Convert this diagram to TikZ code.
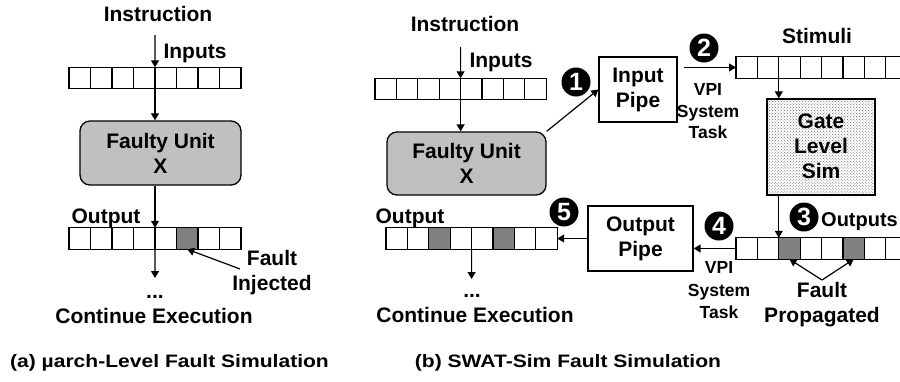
\documentclass[tikz,border=0pt]{standalone}
\usepackage{fontspec}
\setmainfont{Liberation Sans}
\usetikzlibrary{arrows.meta,patterns}
\definecolor{unitgray}{RGB}{192,192,192}
\definecolor{cellg}{RGB}{128,128,128}
\newcommand{\myreg}[5]{%
  \foreach \f [count=\i] in {#5} {
    \node[cell, minimum width=#4bp, fill=\f] (#1-\i) at ({#2+(\i-0.5)*#4}, #3) {};
  }%
}
\begin{document}
\begin{tikzpicture}[x=1bp,y=-1bp,
  every node/.style={font=\bfseries\fontsize{21bp}{25bp}\selectfont},
  lbl/.style={anchor=base, inner sep=0},
  smalltxt/.style={anchor=base, inner sep=0, font=\bfseries\fontsize{17.5bp}{22bp}\selectfont},
  captxt/.style={anchor=base, inner sep=0, font=\bfseries\fontsize{18bp}{22bp}\selectfont},
  cell/.style={draw, minimum height=21.5bp, inner sep=0, outer sep=0, line width=1.2bp},
  box/.style={draw, line width=1.3bp, align=center, inner sep=0},
  arr/.style={line width=1.2bp, -{Triangle[length=7bp,width=8bp]}},
  num/.style={circle, fill=black, text=white, minimum size=29bp, inner sep=0,
    font=\bfseries\fontsize{25bp}{25bp}\selectfont},
]
\path[use as bounding box, fill=white] (0,0) rectangle (900,381);
\clip (0,0) rectangle (900,381);

% ---------------- (a) left panel ----------------
\node[lbl] (instrL) at (158,21) {Instruction};
\node[lbl] (inputsL) at (195,58) {Inputs};
\myreg{rinL}{69}{78}{21.5}{white,white,white,white,white,white,white,white}
\node[box, minimum width=161bp, minimum height=64bp, fill=unitgray, rounded corners=10bp]
  (faultyL) at (160.5,153) {Faulty Unit\\X};
\node[lbl] (outL) at (106,223) {Output};
\myreg{routL}{69}{238.5}{21.5}{white,white,white,white,white,cellg,white,white}
\coordinate (inLs) at (155,35);
\coordinate (endL) at (155,278);
\draw[arr] (inLs) -- (rinL-4.north east);
\draw[arr] (rinL-4.south east) -- (rinL-4.south east |- faultyL.north);
\draw[arr] (rinL-4.south east |- faultyL.south) -- (routL-4.north east);
\draw[arr] (routL-4.south east) -- (endL);
\node[lbl] (dotsL) at (155,298) {...};
\node[lbl] (contL) at (154,323) {Continue Execution};
\node[lbl] (fiL1) at (272,265) {Fault};
\node[lbl] (fiL2) at (272,290) {Injected};
\coordinate (fiLs) at (240,269);
\draw[arr] (fiLs) -- (routL-6.south);

% ---------------- (b) right panel ----------------
\node[lbl] (instrR) at (465,31) {Instruction};
\node[lbl] (inputsR) at (501,67) {Inputs};
\myreg{rinR}{375}{89}{21.4}{white,white,white,white,white,white,white,white}
\node[box, minimum width=159bp, minimum height=63bp, fill=unitgray, rounded corners=10bp]
  (faultyR) at (466.5,163.5) {Faulty Unit\\X};
\coordinate (inRs) at (460.6,47);
\draw[arr] (inRs) -- (rinR-4.north east);
\draw[arr] (rinR-4.south east) -- (rinR-4.south east |- faultyR.north);

\node[box, minimum width=78bp, minimum height=65bp] (inpipe) at (638,89.5) {Input\\Pipe};
\draw[arr] (faultyR.north east) -- (inpipe.west);
\node[num] (n1) at (576,82) {1};

\node[lbl] (stimlbl) at (817,43) {Stimuli};
\myreg{stim}{736}{67.5}{21.4}{white,white,white,white,white,white,white,white}
\draw[arr] ([xshift=6bp]inpipe.east |- stim-1.west) -- (stim-1.west);
\node[num] (n2) at (704,48) {2};
\node[smalltxt] (vpiA1) at (708,95) {VPI};
\node[smalltxt] (vpiA2) at (708,117) {System};
\node[smalltxt] (vpiA3) at (708,138) {Task};

\node[box, minimum width=108bp, minimum height=96bp, pattern=crosshatch dots, pattern color=black!55]
  (gate) at (821,147) {};
\node[align=center, inner sep=0] (gatetxt) at (821,146) {Gate\\Level\\Sim};
\draw[arr] (stim-3.south west) -- (stim-3.south west |- gate.north);

\myreg{rout2}{736}{248.5}{21.4}{white,white,cellg,white,white,cellg,white,white}
\draw[arr] (rout2-3.north west |- gate.south) -- (rout2-3.north west);
\node[num] (n3) at (804,217) {3};
\node[anchor=base west, inner sep=0, font=\bfseries\fontsize{20bp}{24bp}\selectfont] (outs) at (821,226) {Outputs};
\coordinate (apex) at (822,280);
\draw[arr] (apex) -- (rout2-3.south);
\draw[arr] (apex) -- (rout2-6.south);
\node[lbl] (fp1) at (822,297) {Fault};
\node[lbl] (fp2) at (822,322) {Propagated};

\node[box, minimum width=105bp, minimum height=65bp] (outpipe) at (640.5,238.5) {Output\\Pipe};
\draw[arr] (rout2-1.west) -- (rout2-1.west -| outpipe.east);
\node[num] (n4) at (719,226) {4};
\node[smalltxt] (vpiB1) at (719,273) {VPI};
\node[smalltxt] (vpiB2) at (719,296) {System};
\node[smalltxt] (vpiB3) at (719,318) {Task};

\myreg{routR}{386}{238.5}{21.4}{white,white,cellg,white,white,cellg,white,white}
\draw[arr] (outpipe.west |- routR-8.east) -- (routR-8.east);
\node[num] (n5) at (564,212) {5};
\node[lbl] (outR) at (410,223) {Output};
\coordinate (endR) at (471.6,279);
\draw[arr] (routR-4.south east) -- (endR);
\node[lbl] (dotsR) at (472,297) {...};
\node[lbl] (contR) at (475,322) {Continue Execution};

% ---------------- captions ----------------
\node[captxt] (capA) at (169.5,367) {\scalebox{1.17}[1]{(a) µarch-Level Fault Simulation}};
\node[captxt] (capB) at (568,367) {\scalebox{1.17}[1]{(b) SWAT-Sim Fault Simulation}};
\end{tikzpicture}
\end{document}
